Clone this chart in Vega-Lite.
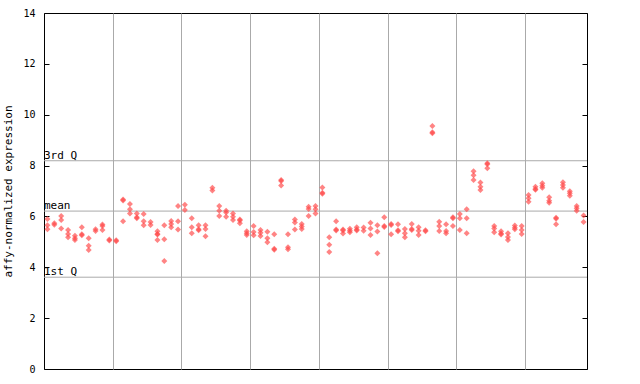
{
  "$schema": "https://vega.github.io/schema/vega-lite/v6.json",
  "width": 543,
  "height": 356,
  "autosize": {"type": "none"},
  "padding": {"left": 44, "top": 13, "right": 53, "bottom": 15},
  "background": "white",
  "config": {
    "view": {"stroke": "black", "strokeWidth": 1},
    "axis": {"labelFont": "DejaVu Sans Mono", "titleFont": "DejaVu Sans Mono", "labelColor": "black", "titleColor": "black", "domainColor": "black", "tickColor": "black"}
  },
  "datasets": {
    "pts": [
      {"s":0,"v":5.9},{"s":0,"v":5.65},{"s":0,"v":5.5},
      {"s":1,"v":5.73},{"s":1,"v":5.67},
      {"s":2,"v":6.02},{"s":2,"v":5.86},{"s":2,"v":5.53},
      {"s":3,"v":5.47},{"s":3,"v":5.31},{"s":3,"v":5.18},
      {"s":4,"v":5.24},{"s":4,"v":5.14},{"s":4,"v":5.07},
      {"s":5,"v":5.57},{"s":5,"v":5.30},{"s":5,"v":5.26},
      {"s":6,"v":5.14},{"s":6,"v":4.85},{"s":6,"v":4.68},
      {"s":7,"v":5.5},{"s":7,"v":5.43},
      {"s":8,"v":5.68},{"s":8,"v":5.62},{"s":8,"v":5.47},
      {"s":9,"v":5.09},{"s":9,"v":5.05},
      {"s":10,"v":5.06},{"s":10,"v":5.02},
      {"s":11,"v":6.67},{"s":11,"v":6.63},{"s":11,"v":5.81},
      {"s":12,"v":6.49},{"s":12,"v":6.28},{"s":12,"v":6.12},
      {"s":13,"v":6.12},{"s":13,"v":5.97},{"s":13,"v":5.93},
      {"s":14,"v":6.10},{"s":14,"v":5.81},{"s":14,"v":5.65},
      {"s":15,"v":5.78},{"s":15,"v":5.66},
      {"s":16,"v":5.42},{"s":16,"v":5.31},{"s":16,"v":5.29},{"s":16,"v":5.07},
      {"s":17,"v":5.65},{"s":17,"v":5.10},{"s":17,"v":4.25},
      {"s":18,"v":5.82},{"s":18,"v":5.70},{"s":18,"v":5.57},
      {"s":19,"v":6.41},{"s":19,"v":5.81},{"s":19,"v":5.49},
      {"s":20,"v":6.46},{"s":20,"v":6.25},
      {"s":21,"v":5.93},{"s":21,"v":5.57},{"s":21,"v":5.34},
      {"s":22,"v":5.65},{"s":22,"v":5.50},{"s":22,"v":5.46},
      {"s":23,"v":5.65},{"s":23,"v":5.51},{"s":23,"v":5.22},
      {"s":24,"v":7.13},{"s":24,"v":7.02},
      {"s":25,"v":6.41},{"s":25,"v":6.22},{"s":25,"v":6.02},
      {"s":26,"v":6.22},{"s":26,"v":6.15},{"s":26,"v":5.99},
      {"s":27,"v":6.12},{"s":27,"v":5.99},{"s":27,"v":5.86},
      {"s":28,"v":5.88},{"s":28,"v":5.84},{"s":28,"v":5.73},
      {"s":29,"v":5.42},{"s":29,"v":5.34},{"s":29,"v":5.27},
      {"s":30,"v":5.62},{"s":30,"v":5.39},{"s":30,"v":5.26},
      {"s":31,"v":5.47},{"s":31,"v":5.36},{"s":31,"v":5.23},
      {"s":32,"v":5.40},{"s":32,"v":5.14},{"s":32,"v":4.98},
      {"s":33,"v":5.30},{"s":33,"v":4.73},{"s":33,"v":4.69},
      {"s":34,"v":7.43},{"s":34,"v":7.39},{"s":34,"v":7.22},
      {"s":35,"v":5.30},{"s":35,"v":4.79},{"s":35,"v":4.71},
      {"s":36,"v":5.88},{"s":36,"v":5.76},{"s":36,"v":5.49},
      {"s":37,"v":5.70},{"s":37,"v":5.60},{"s":37,"v":5.51},
      {"s":38,"v":6.38},{"s":38,"v":6.29},{"s":38,"v":6.02},
      {"s":39,"v":6.41},{"s":39,"v":6.28},{"s":39,"v":6.12},
      {"s":40,"v":7.14},{"s":40,"v":6.93},{"s":40,"v":6.89},
      {"s":41,"v":5.18},{"s":41,"v":4.89},{"s":41,"v":4.60},
      {"s":42,"v":5.81},{"s":42,"v":5.49},{"s":42,"v":5.45},
      {"s":43,"v":5.49},{"s":43,"v":5.45},{"s":43,"v":5.33},
      {"s":44,"v":5.52},{"s":44,"v":5.44},{"s":44,"v":5.38},
      {"s":45,"v":5.57},{"s":45,"v":5.49},{"s":45,"v":5.45},
      {"s":46,"v":5.56},{"s":46,"v":5.44},
      {"s":47,"v":5.75},{"s":47,"v":5.53},{"s":47,"v":5.27},
      {"s":48,"v":5.65},{"s":48,"v":5.41},{"s":48,"v":4.55},
      {"s":49,"v":5.97},{"s":49,"v":5.62},{"s":49,"v":5.58},
      {"s":50,"v":5.70},{"s":50,"v":5.66},{"s":50,"v":5.30},
      {"s":51,"v":5.69},{"s":51,"v":5.46},{"s":51,"v":5.42},
      {"s":52,"v":5.51},{"s":52,"v":5.34},{"s":52,"v":5.18},
      {"s":53,"v":5.70},{"s":53,"v":5.51},{"s":53,"v":5.47},
      {"s":54,"v":5.57},{"s":54,"v":5.44},{"s":54,"v":5.27},
      {"s":55,"v":5.46},{"s":55,"v":5.42},
      {"s":56,"v":9.56},{"s":56,"v":9.31},{"s":56,"v":9.27},
      {"s":57,"v":5.79},{"s":57,"v":5.62},{"s":57,"v":5.43},
      {"s":58,"v":5.69},{"s":58,"v":5.43},{"s":58,"v":5.34},
      {"s":59,"v":5.97},{"s":59,"v":5.93},{"s":59,"v":5.62},
      {"s":60,"v":6.10},{"s":60,"v":5.93},{"s":60,"v":5.47},
      {"s":61,"v":6.28},{"s":61,"v":5.93},{"s":61,"v":5.34},
      {"s":62,"v":7.78},{"s":62,"v":7.62},{"s":62,"v":7.43},
      {"s":63,"v":7.33},{"s":63,"v":7.17},{"s":63,"v":7.04},
      {"s":64,"v":8.09},{"s":64,"v":8.05},{"s":64,"v":7.89},
      {"s":65,"v":5.62},{"s":65,"v":5.53},{"s":65,"v":5.38},
      {"s":66,"v":5.42},{"s":66,"v":5.33},{"s":66,"v":5.29},
      {"s":67,"v":5.34},{"s":67,"v":5.19},{"s":67,"v":5.07},
      {"s":68,"v":5.64},{"s":68,"v":5.55},{"s":68,"v":5.50},
      {"s":69,"v":5.62},{"s":69,"v":5.47},{"s":69,"v":5.31},
      {"s":70,"v":6.84},{"s":70,"v":6.71},{"s":70,"v":6.58},
      {"s":71,"v":7.17},{"s":71,"v":7.08},{"s":71,"v":7.05},
      {"s":72,"v":7.30},{"s":72,"v":7.21},{"s":72,"v":7.13},
      {"s":73,"v":6.75},{"s":73,"v":6.62},{"s":73,"v":6.54},
      {"s":74,"v":5.95},{"s":74,"v":5.91},{"s":74,"v":5.69},
      {"s":75,"v":7.34},{"s":75,"v":7.24},{"s":75,"v":7.13},
      {"s":76,"v":6.99},{"s":76,"v":6.91},{"s":76,"v":6.81},
      {"s":77,"v":6.41},{"s":77,"v":6.32},{"s":77,"v":6.22},
      {"s":78,"v":6.04},{"s":78,"v":5.78}
    ],
    "quart": [
      {"label": "3rd Q", "v": 8.19},
      {"label": "mean", "v": 6.21},
      {"label": "1st Q", "v": 3.61}
    ]
  },
  "resolve": {"axis": {"y": "independent"}},
  "layer": [
    {
      "data": {"name": "quart"},
      "mark": {"type": "rule", "color": "#aaaaaa", "strokeWidth": 1},
      "encoding": {
        "y": {"field": "v", "type": "quantitative", "scale": {"domain": [0, 14], "nice": false, "zero": false},
          "axis": {"orient": "right", "values": [0,2,4,6,8,10,12,14], "labels": false, "tickSize": -5, "title": null, "grid": false, "domain": false}}
      }
    },
    {
      "data": {"name": "quart"},
      "mark": {"type": "text", "align": "left", "baseline": "bottom", "font": "DejaVu Sans Mono", "fontSize": 11, "color": "black", "dy": 0},
      "encoding": {
        "x": {"datum": -0.5, "type": "quantitative"},
        "y": {"field": "v", "type": "quantitative", "axis": null},
        "text": {"field": "label"}
      }
    },
    {
      "data": {"name": "pts"},
      "mark": {"type": "point", "shape": "diamond", "filled": true, "color": "#ff4a4a", "opacity": 0.68, "size": 36, "strokeWidth": 0},
      "encoding": {
        "x": {"field": "s", "type": "quantitative", "scale": {"domain": [-0.5, 78.5], "nice": false, "zero": false},
          "axis": {"values": [9.5,19.5,29.5,39.5,49.5,59.5,69.5], "grid": true, "gridColor": "#aaaaaa", "gridOpacity": 1, "ticks": false, "labels": false, "domain": false, "title": null}},
        "y": {"field": "v", "type": "quantitative",
          "axis": {"orient": "left", "values": [0,2,4,6,8,10,12,14], "grid": false, "tickSize": -5, "labelPadding": 14, "labelFontSize": 10, "title": "affy-normalized expression", "titleFontSize": 11, "titleFontWeight": "normal", "titlePadding": 9, "domain": false}}
      }
    }
  ]
}
